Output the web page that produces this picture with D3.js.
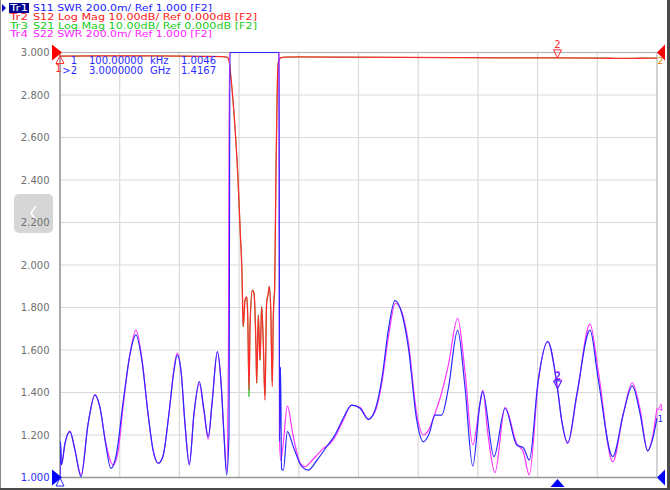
<!DOCTYPE html>
<html>
<head>
<meta charset="utf-8">
<script src="https://cdn.jsdelivr.net/npm/d3@7"></script>
<style>
  body { margin: 0; background: #fff; }
  svg { display: block; }
  text { font-family: "DejaVu Sans", Verdana, sans-serif; }
</style>
</head>
<body>
<div id="viz"></div>
<script>
// frequencies in MHz, SWR unitless, S12/S21 in dB
const s11Freq = [0.1, 3, 9, 30, 60, 90, 127, 169, 211, 241, 277, 307, 338, 380, 422, 458, 494, 531, 561, 593, 621, 657, 687, 707, 730, 754, 780, 808, 840, 868, 894, 917, 949, 971, 989, 1005, 1019, 1025, 1321, 1324, 1330, 1336, 1347, 1371, 1407, 1458, 1497, 1548, 1608, 1658, 1708, 1759, 1809, 1859, 1900, 1940, 1980, 2020, 2061, 2100, 2151, 2191, 2227, 2261, 2302, 2342, 2398, 2442, 2489, 2533, 2549, 2617, 2684, 2754, 2794, 2830, 2884, 2941, 3000, 3025, 3062, 3116, 3196, 3246, 3333, 3397, 3451, 3498, 3544, 3570, 3600];
const s11Swr = [1.0046, 1.17, 1.06, 1.16, 1.216, 1.13, 1.004, 1.25, 1.388, 1.33, 1.15, 1.043, 1.10, 1.35, 1.58, 1.671, 1.55, 1.30, 1.13, 1.067, 1.10, 1.30, 1.50, 1.576, 1.50, 1.25, 1.059, 1.30, 1.451, 1.32, 1.192, 1.35, 1.592, 1.45, 1.20, 1.012, 1.2, 8.0, 8.0, 1.17, 1.52, 1.04, 1.035, 1.216, 1.145, 1.051, 1.035, 1.08, 1.145, 1.20, 1.279, 1.341, 1.326, 1.274, 1.318, 1.459, 1.694, 1.832, 1.773, 1.616, 1.271, 1.168, 1.208, 1.294, 1.294, 1.42, 1.694, 1.427, 1.054, 1.35, 1.404, 1.098, 1.326, 1.153, 1.14, 1.082, 1.46, 1.639, 1.4167, 1.27, 1.164, 1.39, 1.694, 1.46, 1.098, 1.30, 1.431, 1.30, 1.125, 1.17, 1.279];

const s22Freq = [0.1, 3, 9, 30, 60, 90, 127, 169, 211, 241, 277, 321, 350, 380, 422, 458, 494, 531, 561, 593, 621, 657, 687, 707, 730, 754, 780, 808, 840, 868, 894, 917, 949, 971, 989, 1005, 1015, 1022, 1321, 1323, 1331, 1345, 1371, 1405, 1447, 1477, 1519, 1555, 1588, 1628, 1658, 1708, 1759, 1809, 1859, 1900, 1940, 1980, 2023, 2061, 2100, 2151, 2191, 2227, 2261, 2302, 2342, 2398, 2442, 2489, 2533, 2549, 2581, 2623, 2684, 2754, 2794, 2830, 2884, 2941, 3000, 3025, 3062, 3116, 3196, 3246, 3333, 3397, 3451, 3498, 3544, 3570, 3600];
const s22Swr = [1.01, 1.15, 1.06, 1.16, 1.218, 1.13, 1.012, 1.25, 1.39, 1.33, 1.16, 1.059, 1.12, 1.33, 1.58, 1.694, 1.56, 1.30, 1.13, 1.067, 1.10, 1.30, 1.51, 1.585, 1.50, 1.25, 1.065, 1.30, 1.44, 1.31, 1.18, 1.35, 1.59, 1.45, 1.20, 1.03, 1.5, 8.0, 8.0, 1.2, 1.08, 1.15, 1.336, 1.2, 1.07, 1.051, 1.08, 1.11, 1.137, 1.16, 1.19, 1.27, 1.34, 1.33, 1.275, 1.31, 1.44, 1.66, 1.82, 1.78, 1.64, 1.30, 1.2, 1.23, 1.30, 1.40, 1.53, 1.749, 1.5, 1.153, 1.35, 1.41, 1.2, 1.023, 1.33, 1.16, 1.12, 1.012, 1.45, 1.64, 1.42, 1.27, 1.16, 1.38, 1.722, 1.5, 1.074, 1.30, 1.446, 1.32, 1.125, 1.18, 1.326];

const s12Freq = [0.1, 241, 543, 844, 977, 1007, 1019, 1027, 1037, 1057, 1073, 1087, 1098, 1102, 1105, 1116, 1126, 1132, 1140, 1146, 1160, 1170, 1182, 1186, 1196, 1206, 1216, 1226, 1236, 1246, 1256, 1262, 1271, 1280, 1286, 1290, 1294, 1298, 1302, 1308, 1312, 1317, 1328, 1357, 1447, 1749, 2050, 2352, 2653, 2955, 3256, 3377, 3498, 3600];
const s12Db = [-0.85, -0.8, -0.8, -0.9, -0.95, -1.1, -1.8, -4.5, -8.4, -18.6, -29.5, -42.2, -53, -60.6, -64.5, -58.2, -57.5, -61.8, -79.4, -64.5, -55.9, -56.7, -70, -77.8, -61.8, -72.4, -59.8, -68.4, -81.8, -59, -56.7, -55.1, -60.6, -78.6, -62.9, -58.2, -56.3, -44.5, -29.5, -13.9, -5.3, -2.2, -1.3, -1.1, -1.05, -1.1, -1.15, -1.2, -1.25, -1.25, -1.3, -1.4, -1.35, -1.3];

const s21Freq = [0.1, 241, 543, 844, 977, 1007, 1019, 1027, 1037, 1057, 1073, 1087, 1098, 1102, 1105, 1116, 1126, 1132, 1140, 1146, 1160, 1170, 1182, 1186, 1196, 1206, 1216, 1226, 1236, 1246, 1256, 1262, 1271, 1280, 1286, 1290, 1294, 1298, 1302, 1308, 1312, 1317, 1328, 1357, 1447, 1749, 2050, 2352, 2653, 2955, 3256, 3377, 3498, 3600];
const s21Db = [-0.85, -0.8, -0.8, -0.9, -0.95, -1.1, -1.8, -4.5, -8.4, -18.6, -29.5, -42.2, -53, -60.6, -64.5, -58.2, -57.5, -61.8, -81.0, -64.5, -55.9, -56.7, -70, -77.8, -61.8, -72.4, -59.8, -68.4, -80.5, -59, -56.7, -55.1, -60.6, -77.5, -62.9, -58.2, -56.3, -44.5, -29.5, -13.9, -5.3, -2.2, -1.3, -1.1, -1.05, -1.1, -1.15, -1.2, -1.25, -1.25, -1.3, -1.4, -1.35, -1.3];

const swrTicks = [3.0, 2.8, 2.6, 2.4, 2.2, 2.0, 1.8, 1.6, 1.4, 1.2, 1.0];
const headerLines = [
  { tr: "Tr1", rest: "S11 SWR 200.0m/ Ref 1.000 [F2]", color: "#1a1aff", end: 212 },
  { tr: "Tr2", rest: "S12 Log Mag 10.00dB/ Ref 0.000dB [F2]", color: "#ff2020", end: 257 },
  { tr: "Tr3", rest: "S21 Log Mag 10.00dB/ Ref 0.000dB [F2]", color: "#22cc22", end: 257 },
  { tr: "Tr4", rest: "S22 SWR 200.0m/ Ref 1.000 [F2]", color: "#ff22ff", end: 212 }
];
const markerRows = [
  { id: "1", stim: "100.00000", unit: "kHz", val: "1.0046" },
  { id: ">2", stim: "3.0000000", unit: "GHz", val: "1.4167" }
];
const markerFreqs = [0.1, 3000];

const W = 670, H = 490;
const plot = { left: 60, right: 657, top: 52.5, bottom: 477.5 };
const blue = "#2a2aff", red = "#ff2a2a", green = "#22c022", magenta = "#ff33ff";

const svg = d3.select("#viz").append("svg")
  .attr("width", W).attr("height", H);

const x = d3.scaleLinear().domain([0.1, 3600]).range([plot.left, plot.right]);
const ySwr = d3.scaleLinear().domain([1, 3]).range([plot.bottom, plot.top]).clamp(true);
const yDb = d3.scaleLinear().domain([-100, 0]).range([plot.bottom, plot.top]).clamp(true);

// grid
const xGrid = d3.range(11).map(i => 0.1 + i * (3600 - 0.1) / 10);
svg.append("g").selectAll("line").data(xGrid.slice(1, 10)).enter().append("line")
  .attr("x1", d => x(d)).attr("x2", d => x(d))
  .attr("y1", plot.top).attr("y2", plot.bottom)
  .attr("stroke", "#d9d9d9").attr("stroke-width", 1.2);
svg.append("g").selectAll("line").data(swrTicks.slice(1, 10)).enter().append("line")
  .attr("x1", plot.left).attr("x2", plot.right)
  .attr("y1", d => ySwr(d)).attr("y2", d => ySwr(d))
  .attr("stroke", "#d9d9d9").attr("stroke-width", 1.2);

// frame of the plot
svg.append("rect")
  .attr("x", plot.left).attr("y", plot.top)
  .attr("width", plot.right - plot.left).attr("height", plot.bottom - plot.top)
  .attr("fill", "none").attr("stroke", "#b4b4b4").attr("stroke-width", 1.2);
svg.append("line")
  .attr("x1", plot.left).attr("x2", plot.left).attr("y1", plot.top).attr("y2", plot.bottom + 1)
  .attr("stroke", "#9a9a9a").attr("stroke-width", 1.4);
svg.append("line")
  .attr("x1", plot.left).attr("x2", plot.right).attr("y1", plot.bottom).attr("y2", plot.bottom)
  .attr("stroke", "#9a9a9a").attr("stroke-width", 1.4);

// left side button overlay
svg.append("rect")
  .attr("x", 14).attr("y", 194).attr("width", 39).attr("height", 39).attr("rx", 5)
  .attr("fill", "#d6d6d6");
svg.append("path")
  .attr("d", "M36,206 L31,213 L36,220")
  .attr("fill", "none").attr("stroke", "#fff").attr("stroke-width", 1.6);

// y tick labels
svg.append("g").selectAll("text").data(swrTicks).enter().append("text")
  .attr("x", 49.5).attr("y", d => ySwr(d))
  .attr("dy", "0.36em")
  .attr("text-anchor", "end")
  .style("font-size", "10px")
  .attr("fill", d => d === 1.0 ? blue : "#707070")
  .text(d => d3.format(".3f")(d));

// traces
svg.append("clipPath").attr("id", "plotclip").append("rect")
  .attr("x", plot.left).attr("y", plot.top - 1)
  .attr("width", plot.right - plot.left + 1).attr("height", plot.bottom - plot.top + 2);

function drawTrace(freqs, vals, yScale, color, width) {
  const pts = freqs.map((f, i) => [f, vals[i]]);
  const line = d3.line()
    .x(d => x(d[0]))
    .y(d => yScale(d[1]))
    .curve(d3.curveMonotoneX);
  svg.append("path")
    .datum(pts)
    .attr("clip-path", "url(#plotclip)")
    .attr("d", line)
    .attr("fill", "none")
    .attr("stroke", color)
    .attr("stroke-width", width)
    .attr("stroke-linejoin", "round");
}

drawTrace(s21Freq, s21Db, yDb, green, 0.8);
drawTrace(s12Freq, s12Db, yDb, red, 1.3);
drawTrace(s22Freq, s22Swr, ySwr, magenta, 1.2);
drawTrace(s11Freq, s11Swr, ySwr, blue, 1.2);

// reference level arrows
const triR = "M0,-8 L10,0 L0,8 Z", triL = "M0,-8 L-8,0 L0,8 Z";
svg.append("path").attr("d", triR).attr("fill", "#ff0000")
  .attr("transform", `translate(${plot.left - 8},${yDb(0)})`);
svg.append("path").attr("d", triL).attr("fill", "#ff0000")
  .attr("transform", `translate(${plot.right + 8},${yDb(0)})`);
svg.append("path").attr("d", triR).attr("fill", "#0000ff")
  .attr("transform", `translate(${plot.left - 8},${ySwr(1)})`);
svg.append("path").attr("d", triL).attr("fill", "#0000ff")
  .attr("transform", `translate(${plot.right + 8},${ySwr(1)})`);

// markers
const down = "M-4,0 L4,0 L0,8 Z", up = "M-4,8 L4,8 L0,0 Z";
const m2 = markerFreqs[1];
const m2y = ySwr(s11Swr[s11Freq.indexOf(m2)]);
svg.append("path").attr("d", down).attr("fill", "none").attr("stroke", "#ff3030").attr("stroke-width", 1)
  .attr("transform", `translate(${x(m2)},${yDb(s12Db[s12Freq.length - 5]) - 8})`);
svg.append("text").attr("x", x(m2)).attr("y", yDb(0) - 5).attr("text-anchor", "middle")
  .style("font-size", "10px").attr("fill", "#ff3030").text("2");
svg.append("path").attr("d", down).attr("fill", "none").attr("stroke", magenta).attr("stroke-width", 1)
  .attr("transform", `translate(${x(m2) + 0.5},${m2y - 9})`);
svg.append("path").attr("d", down).attr("fill", "none").attr("stroke", blue).attr("stroke-width", 1)
  .attr("transform", `translate(${x(m2)},${m2y - 8})`);
svg.append("text").attr("x", x(m2) + 0.5).attr("y", m2y - 10).attr("text-anchor", "middle")
  .style("font-size", "10px").attr("fill", magenta).text("2");
svg.append("text").attr("x", x(m2)).attr("y", m2y - 9).attr("text-anchor", "middle")
  .style("font-size", "10px").attr("fill", blue).text("2");
// marker 1 at start
const m1 = markerFreqs[0];
svg.append("path").attr("d", up).attr("fill", "none").attr("stroke", "#ff3030").attr("stroke-width", 1)
  .attr("transform", `translate(${x(m1)},${yDb(0) + 3})`);
svg.append("text").attr("x", x(m1) - 1.5).attr("y", yDb(0) + 19).attr("text-anchor", "middle")
  .style("font-size", "10px").attr("fill", "#ff3030").text("1");
svg.append("path").attr("d", up).attr("fill", "none").attr("stroke", blue).attr("stroke-width", 1)
  .attr("transform", `translate(${x(m1)},${ySwr(1) + 0.5})`);
// stimulus marker at bottom
svg.append("path").attr("d", "M-7,8 L7,8 L0,0 Z").attr("fill", "#0000ff")
  .attr("transform", `translate(${x(m2)},${plot.bottom + 1.5})`);

// trace number labels at the right end
svg.append("text").attr("x", plot.right + 0.5).attr("y", ySwr(s22Swr[s22Swr.length - 1]) + 3)
  .style("font-size", "9px").attr("fill", magenta).text("4");
svg.append("text").attr("x", plot.right + 0.5).attr("y", ySwr(s11Swr[s11Swr.length - 1]) + 4)
  .style("font-size", "9px").attr("fill", blue).text("1");
svg.append("text").attr("x", plot.right + 0.5).attr("y", yDb(s12Db[s12Db.length - 1]) + 6)
  .style("font-size", "9px").attr("fill", "#e08000").text("2");

// marker readout table
const rows = svg.append("g").selectAll("g").data(markerRows).enter().append("g")
  .attr("transform", (d, i) => `translate(0,${64 + i * 10})`)
  .style("font-size", "10px").attr("fill", blue);
rows.append("text").attr("x", 77).attr("text-anchor", "end").text(d => d.id);
rows.append("text").attr("x", 89).text(d => d.stim);
rows.append("text").attr("x", 150).text(d => d.unit);
rows.append("text").attr("x", 181).text(d => d.val);

// header
svg.append("path").attr("d", "M2,4 L6,8 L2,12 Z").attr("fill", "#0000cc");
svg.append("rect").attr("x", 9).attr("y", 3).attr("width", 20).attr("height", 10).attr("fill", "#000090");
const hdr = svg.append("g").selectAll("g").data(headerLines).enter().append("g")
  .attr("transform", (d, i) => `translate(0,${11.3 + i * 8.7})`)
  .style("font-size", "9px");
hdr.append("text").attr("x", 10)
  .attr("textLength", 18).attr("lengthAdjust", "spacingAndGlyphs")
  .attr("fill", (d, i) => i === 0 ? "#ffffff" : d.color).text(d => d.tr);
hdr.append("text").attr("x", 33)
  .attr("textLength", d => d.end - 33).attr("lengthAdjust", "spacingAndGlyphs")
  .attr("fill", d => d.color).text(d => d.rest);

// window border
svg.append("rect").attr("x", 0).attr("y", 0).attr("width", 1).attr("height", H).attr("fill", "#888");
svg.append("rect").attr("x", 667).attr("y", 0).attr("width", 3).attr("height", H).attr("fill", "#4a4a4a");
svg.append("rect").attr("x", 0).attr("y", 488).attr("width", W).attr("height", 2).attr("fill", "#4a4a4a");
</script>
</body>
</html>
